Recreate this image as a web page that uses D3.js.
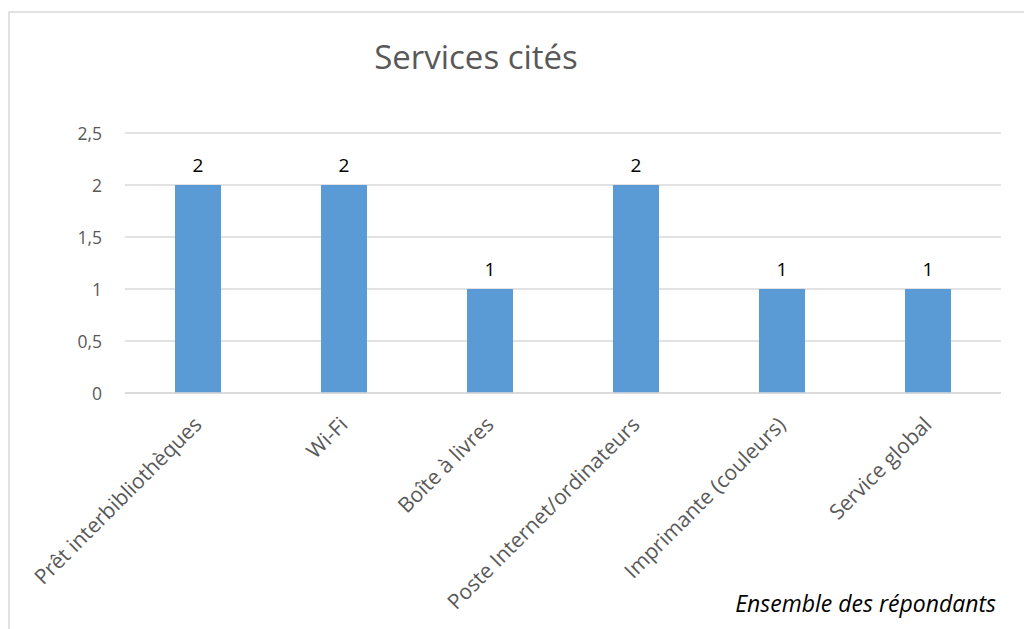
<!DOCTYPE html>
<html><head><meta charset="utf-8">
<script src="https://cdn.jsdelivr.net/npm/d3@7"></script>
<style>html,body{margin:0;padding:0;background:#fff;}svg{display:block;}</style>
</head><body>
<svg id="c" width="1024" height="629"></svg>
<script>
const categories = ["Prêt interbibliothèques","Wi-Fi","Boîte à livres","Poste Internet/ordinateurs","Imprimante (couleurs)","Service global"];
const values = [2,2,1,2,1,1];
const yTicks = [0,0.5,1,1.5,2,2.5];
const title = "Services cités";
const note = "Ensemble des répondants";

const svg = d3.select("#c");
const font = "'Open Sans', 'Liberation Sans', sans-serif";
const m = {left:125, right:1001, top:133, bottom:393};

svg.append("rect").attr("x",9).attr("y",12).attr("width",1030).attr("height",640)
  .attr("fill","#fff").attr("stroke","#d9d9d9").attr("stroke-width",1.5);

const x = d3.scaleBand().domain(categories).range([m.left,m.right]).paddingInner(0.685).paddingOuter(0.3425);
const y = d3.scaleLinear().domain([0,2.5]).range([m.bottom,m.top]);

svg.append("text").attr("x",476).attr("y",69).attr("text-anchor","middle")
  .attr("font-family",font).attr("font-size",33).attr("fill","#595959").text(title);

// gridlines
svg.append("g").selectAll("line").data(yTicks).join("line")
  .attr("x1",m.left).attr("x2",m.right).attr("y1",d=>y(d)).attr("y2",d=>y(d))
  .attr("stroke","#d9d9d9").attr("stroke-width",1.3);

// y axis labels
const yAxis = d3.axisLeft(y).tickValues(yTicks).tickSize(0).tickPadding(0)
  .tickFormat(d=>d3.format("")(d).replace(".",","));
const ga = svg.append("g").attr("transform",`translate(${m.left-23},0)`).call(yAxis);
ga.select(".domain").remove();
ga.selectAll("text").attr("font-family",font).attr("font-size",17.5).attr("fill","#595959").attr("dy","0.36em");

// bars
svg.append("g").selectAll("rect").data(values).join("rect")
  .attr("x",(d,i)=>x(categories[i])).attr("width",x.bandwidth())
  .attr("y",d=>y(d)).attr("height",d=>y(0)-y(d)).attr("fill","#5b9bd5");

// data labels
svg.append("g").selectAll("text").data(values).join("text")
  .attr("x",(d,i)=>x(categories[i])+x.bandwidth()/2).attr("y",d=>y(d)-13)
  .attr("text-anchor","middle").attr("font-family",font).attr("font-size",19).attr("fill","#000")
  .text(d=>d);

// x axis line
svg.append("line").attr("x1",m.left).attr("x2",m.right).attr("y1",y(0)).attr("y2",y(0))
  .attr("stroke","#d9d9d9").attr("stroke-width",1.3);

// category labels
const xAxis = d3.axisBottom(x).tickSize(0).tickPadding(0);
const gx = svg.append("g").attr("transform",`translate(0,${m.bottom})`).call(xAxis);
gx.select(".domain").remove();
gx.selectAll("text").attr("font-family",font).attr("font-size",21).attr("fill","#595959")
  .attr("text-anchor","end").attr("dy",0).attr("y",0)
  .attr("transform","translate(5,33) rotate(-45)");

svg.append("text").attr("x",996).attr("y",612).attr("text-anchor","end")
  .attr("font-family",font).attr("font-style","italic").attr("font-size",23).attr("fill","#000").text(note);
</script>
</body></html>
